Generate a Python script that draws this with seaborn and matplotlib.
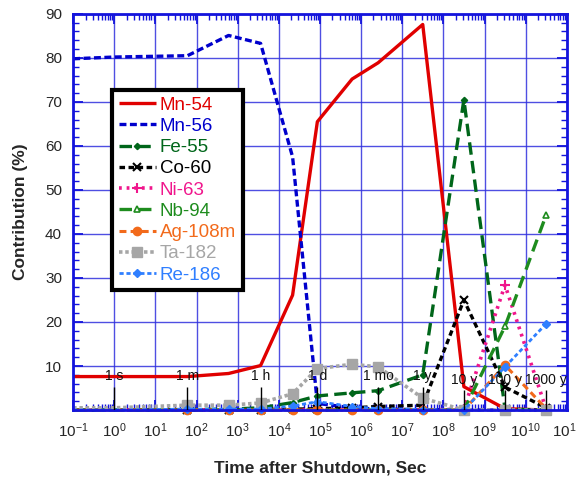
import numpy as np
import pandas as pd
import matplotlib
matplotlib.use("Agg")
import matplotlib.pyplot as plt
import matplotlib.ticker as mticker
import seaborn as sns

# data
t = [0.1, 1, 60, 600, 3600, 21600, 86400, 604800, 2.6e6, 3.15e7, 3.15e8, 3.15e9, 3.15e10]
mn54 = [7.6, 7.6, 7.6, 8.3, 10.1, 26.1, 65.5, 75.2, 78.9, 87.6, 5.3, 0.3, 0.0]
mn56 = [79.8, 80.2, 80.5, 85.1, 83.3, 57.5, 1.5, 0.5, 0.2, 0.1, 0.0, 0.0, 0.0]
fe55 = [0.0, 0.0, 0.1, 0.2, 0.5, 1.7, 3.2, 3.9, 4.4, 8.0, 70.5, 0.2, 0.0]
co60 = [0.0, 0.0, 0.0, 0.0, 0.1, 0.2, 0.3, 0.5, 0.8, 1.1, 25.0, 5.2, 0.5]
ni63 = [0.0, 0.0, 0.0, 0.0, 0.0, 0.0, 0.0, 0.0, 0.0, 0.0, 0.2, 28.4, 0.2]
nb94 = [0.0, 0.0, 0.0, 0.0, 0.0, 0.0, 0.0, 0.0, 0.0, 0.0, 0.0, 19.0, 44.3]
ag108m = [0.0, 0.0, 0.0, 0.0, 0.0, 0.0, 0.0, 0.0, 0.0, 0.0, 0.0, 10.2, 0.3]
ta182 = [0.5, 0.5, 1.1, 1.1, 1.6, 3.7, 9.4, 10.4, 9.8, 2.7, 0.0, 0.0, 0.0]
re186 = [0.0, 0.0, 0.2, 0.2, 0.2, 0.9, 1.9, 0.8, 0.3, 0.1, 0.0, 9.8, 19.6]

marks_t = [1, 60, 3600, 86400, 2.6e6, 3.15e7, 3.15e8, 3.15e9, 3.15e10]
marks_lbl = ["1 s", "1 m", "1 h", "1 d", "1 mo", "1 y", "10 y", "100 y", "1000 y"]

sns.set_style("ticks")
plt.rcParams["font.family"] = ["Liberation Sans", "DejaVu Sans"]
plt.rcParams["mathtext.fontset"] = "custom"
plt.rcParams["mathtext.rm"] = "Liberation Sans"
plt.rcParams["mathtext.it"] = "Liberation Sans:italic"
plt.rcParams["mathtext.bf"] = "Liberation Sans:bold"
plt.rcParams["lines.scale_dashes"] = False

series = [
    ("Mn-54", mn54, "#e00000", (0, ()), None, 0, 2.4),
    ("Mn-56", mn56, "#0000cc", (0, (5, 2.5)), None, 0, 2.4),
    ("Fe-55", fe55, "#00661a", (0, (9, 4.5)), "D", 3.2, 2.4),
    ("Co-60", co60, "#000000", (0, (4, 2.5)), "x", 5.5, 2.4),
    ("Ni-63", ni63, "#f0168c", (0, (2, 3.5)), "+", 7, 2.6),
    ("Nb-94", nb94, "#1e8c1e", (0, (9, 5)), "^", 5, 2.4),
    ("Ag-108m", ag108m, "#f26a1b", (0, (5, 3)), "o", 6, 2.2),
    ("Ta-182", ta182, "#a6a6a6", (0, (2.5, 2)), "s", 6.5, 2.6),
    ("Re-186", re186, "#2f7fff", (0, (3, 2)), "D", 4.2, 2.0),
]

fig = plt.figure(figsize=(5.76, 4.79), dpi=100)
ax = fig.add_axes([0.127, 0.144, 0.857, 0.827])

for name, vals, col, ls, mk, ms, lw in series:
    kw = {}
    if mk:
        kw = dict(marker=mk, markersize=ms, markevery=list(range(2, len(t))),
                  markeredgecolor=col, markeredgewidth=1.0)
    if mk == "^":
        kw["markerfacecolor"] = "white"
        kw["markeredgewidth"] = 1.2
    if mk in ("x", "+"):
        kw["markeredgewidth"] = 1.5
    sns.lineplot(x=t, y=vals, color=col, linestyle=ls, lw=lw, label=name,
                 ax=ax, clip_on=False, **kw)

ax.set_xscale("log")
ax.set_xlim(0.1, 1e11)
ax.set_ylim(0, 90)

ax.xaxis.set_major_locator(mticker.LogLocator(base=10, numticks=30))
ax.xaxis.set_minor_locator(mticker.LogLocator(base=10, subs=np.arange(2, 10), numticks=200))
ax.xaxis.set_minor_formatter(mticker.NullFormatter())
ax.set_yticks(np.arange(10, 91, 10))
ax.yaxis.set_minor_locator(mticker.MultipleLocator(2))

blue = "#1414dc"
ax.grid(which="major", color="#3030dd", lw=1.0, alpha=0.85)
ax.set_axisbelow(True)
for s in ax.spines.values():
    s.set_color(blue)
    s.set_linewidth(2)
ax.tick_params(which="both", direction="in", top=True, right=True, color=blue,
               labelsize=11, pad=8)
ax.tick_params(which="major", length=7, width=1.3)
ax.tick_params(which="minor", length=4, width=1.0)

# time markers
for i, (tm, lb) in enumerate(zip(marks_t, marks_lbl)):
    ytxt = 7.7 if i < 6 else 6.9
    ax.vlines(tm, 0, ytxt - 2.4, color="black", lw=1.0, zorder=5)
    ax.text(tm, ytxt, lb, ha="center", va="center", fontsize=10, color="#111111", zorder=6)

ax.set_xlabel("Time after Shutdown, Sec", fontsize=12.5, fontweight="bold", labelpad=15)
ax.set_ylabel("Contribution (%)", fontsize=12.5, fontweight="bold", labelpad=12)

leg = ax.legend(loc="upper left", bbox_to_anchor=(0.079, 0.808), borderaxespad=0,
                fontsize=13.5, frameon=True, fancybox=False, framealpha=1,
                edgecolor="black", handlelength=2.0, handletextpad=0.2,
                labelspacing=0.22, borderpad=0.35)
leg.get_frame().set_linewidth(3)
leg.set_zorder(10)
for h in leg.legend_handles:
    h.set_markevery([1])
for txt, (name, vals, col, *_rest) in zip(leg.get_texts(), series):
    txt.set_color(col)

fig.savefig("out.png", dpi=100)
